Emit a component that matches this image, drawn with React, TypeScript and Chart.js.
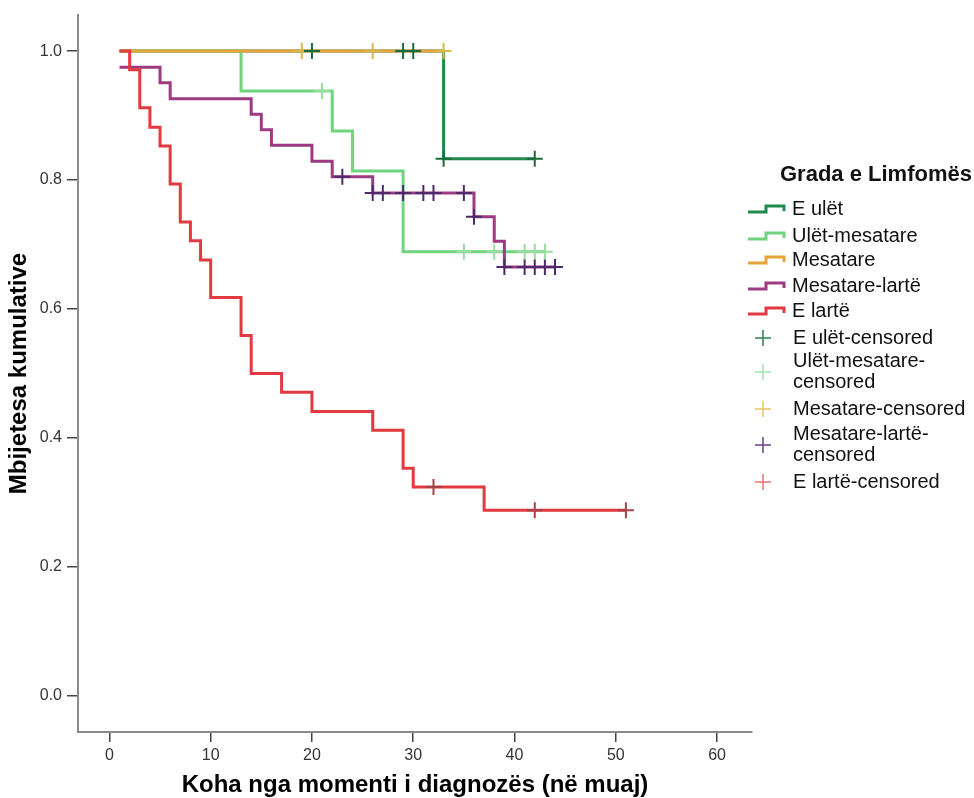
import React, { useEffect, useRef } from "react";
import { Chart, registerables } from "chart.js";

Chart.register(...registerables);

// ---- Axis ticks ----
const xTickValues = [0, 10, 20, 30, 40, 50, 60];
const yTickValues = [0, 0.2, 0.4, 0.6, 0.8, 1.0];
const yTickLabels = ["0.0", "0.2", "0.4", "0.6", "0.8", "1.0"];

const xTitle = "Koha nga momenti i diagnozës (në muaj)";
const yTitle = "Mbijetesa kumulative";
const legendTitle = "Grada e Limfomës";

const groupNames = ["E ulët", "Ulët-mesatare", "Mesatare", "Mesatare-lartë", "E lartë"];
const censoredNames: (string | string[])[] = [
  "E ulët-censored",
  ["Ulët-mesatare-", "censored"],
  "Mesatare-censored",
  ["Mesatare-lartë-", "censored"],
  "E lartë-censored",
];

// ---- E ulët ----
const eUletTimes = [1, 33, 42];
const eUletSurv = [1, 0.833, 0.833];
const eUletCensTimes = [20, 29, 30, 33, 42];
const eUletCensSurv = [1, 1, 1, 0.833, 0.833];

// ---- Ulët-mesatare ----
const ulMesTimes = [1, 13, 22, 24, 29, 43];
const ulMesSurv = [1, 0.938, 0.876, 0.814, 0.689, 0.689];
const ulMesCensTimes = [21, 35, 38, 41, 42, 43];
const ulMesCensSurv = [0.938, 0.689, 0.689, 0.689, 0.689, 0.689];

// ---- Mesatare ----
const mesTimes = [1, 33];
const mesSurv = [1, 1];
const mesCensTimes = [19, 26, 33];
const mesCensSurv = [1, 1, 1];

// ---- Mesatare-lartë ----
const mesLarTimes = [1, 5, 6, 14, 15, 16, 20, 22, 26, 36, 38, 39, 44];
const mesLarSurv = [0.975, 0.951, 0.926, 0.902, 0.878, 0.854, 0.829, 0.805, 0.78, 0.743, 0.705, 0.665, 0.665];
const mesLarCensTimes = [23, 26, 27, 29, 31, 32, 35, 36, 39, 41, 42, 43, 44];
const mesLarCensSurv = [0.805, 0.78, 0.78, 0.78, 0.78, 0.78, 0.78, 0.743, 0.665, 0.665, 0.665, 0.665, 0.665];

// ---- E lartë ----
const larTimes = [1, 2, 3, 4, 5, 6, 7, 8, 9, 10, 13, 14, 17, 20, 26, 29, 30, 37, 51];
const larSurv = [1, 0.971, 0.912, 0.882, 0.853, 0.794, 0.735, 0.706, 0.676, 0.618, 0.559, 0.5, 0.471, 0.441, 0.412, 0.353, 0.324, 0.288, 0.288];
const larCensTimes = [32, 42, 51];
const larCensSurv = [0.324, 0.288, 0.288];

// ---- Styles ----
const lineColors = ["#1f8a4c", "#6fd47d", "#e9a33a", "#9c3a82", "#e23a40"];
const censColors = ["#1d6b3d", "#98dca2", "#e0b64c", "#4e2a6c", "#a8404c"];
const legendCensColors = ["#2f7d50", "#a6e2ae", "#e9c463", "#6b3f8c", "#e87474"];
const FONT = "'Liberation Sans', Arial, Helvetica, sans-serif";

const toPts = (t: number[], s: number[]) => t.map((x, i) => ({ x, y: s[i] }));

const overlayPlugin = {
  id: "kmOverlay",
  afterDraw(chart: any) {
    const ctx = chart.ctx as CanvasRenderingContext2D;
    const ca = chart.chartArea;
    ctx.save();
    // axis titles
    ctx.fillStyle = "#000";
    ctx.font = `bold 24px ${FONT}`;
    ctx.textAlign = "center";
    ctx.textBaseline = "middle";
    ctx.fillText(xTitle, (ca.left + ca.right) / 2, 785);
    ctx.save();
    ctx.translate(19, (ca.top + ca.bottom) / 2);
    ctx.rotate(-Math.PI / 2);
    ctx.fillText(yTitle, 0, 0);
    ctx.restore();

    // legend
    const lx = ca.right - 4; // 748
    ctx.textAlign = "left";
    ctx.font = `bold 22px ${FONT}`;
    ctx.fillStyle = "#111";
    ctx.fillText(legendTitle, lx + 32, 175);

    ctx.font = `20px ${FONT}`;
    const stepRows = [209, 236, 260, 286, 311];
    groupNames.forEach((name, i) => {
      const cy = stepRows[i];
      ctx.strokeStyle = lineColors[i];
      ctx.lineWidth = 3;
      ctx.lineJoin = "miter";
      ctx.beginPath();
      ctx.moveTo(lx, cy + 3);
      ctx.lineTo(lx + 18, cy + 3);
      ctx.lineTo(lx + 18, cy - 3);
      ctx.lineTo(lx + 36, cy - 3);
      ctx.lineTo(lx + 36, cy + 2);
      ctx.stroke();
      ctx.fillStyle = "#111";
      ctx.fillText(name, lx + 44, cy);
    });

    const censRows = [338, 372, 409, 445, 482];
    censoredNames.forEach((name, i) => {
      const cy = censRows[i];
      const cx = lx + 15;
      ctx.strokeStyle = legendCensColors[i];
      ctx.lineWidth = 1.5;
      ctx.beginPath();
      ctx.moveTo(cx - 8, cy);
      ctx.lineTo(cx + 8, cy);
      ctx.moveTo(cx, cy - 8);
      ctx.lineTo(cx, cy + 8);
      ctx.stroke();
      ctx.fillStyle = "#111";
      if (Array.isArray(name)) {
        ctx.fillText(name[0], lx + 45, cy - 10.5);
        ctx.fillText(name[1], lx + 45, cy + 10.5);
      } else {
        ctx.fillText(name, lx + 45, cy);
      }
    });
    ctx.restore();
  },
};

export default function App() {
  const canvasRef = useRef<HTMLCanvasElement | null>(null);

  useEffect(() => {
    if (!canvasRef.current) return;
    const lineSeries = [
      toPts(eUletTimes, eUletSurv),
      toPts(ulMesTimes, ulMesSurv),
      toPts(mesTimes, mesSurv),
      toPts(mesLarTimes, mesLarSurv),
      toPts(larTimes, larSurv),
    ];
    const censSeries = [
      toPts(eUletCensTimes, eUletCensSurv),
      toPts(ulMesCensTimes, ulMesCensSurv),
      toPts(mesCensTimes, mesCensSurv),
      toPts(mesLarCensTimes, mesLarCensSurv),
      toPts(larCensTimes, larCensSurv),
    ];
    // drawing order: lower "order" drawn on top
    const lineOrder = [9, 8, 7, 6, 5];
    const datasets: any[] = [];
    lineSeries.forEach((d, i) => {
      datasets.push({
        label: groupNames[i],
        data: d,
        borderColor: lineColors[i],
        backgroundColor: lineColors[i],
        borderWidth: 3,
        stepped: "before",
        pointRadius: 0,
        fill: false,
        borderCapStyle: "butt",
        borderJoinStyle: "miter",
        order: lineOrder[i],
      });
    });
    censSeries.forEach((d, i) => {
      datasets.push({
        label: groupNames[i] + "-censored",
        data: d,
        showLine: false,
        pointStyle: "cross",
        pointRadius: 8,
        pointBorderWidth: 2,
        pointBorderColor: censColors[i],
        pointBackgroundColor: censColors[i],
        borderColor: censColors[i],
        order: i,
      });
    });

    const chart = new Chart(canvasRef.current, {
      type: "line",
      data: { datasets },
      options: {
        animation: false,
        responsive: false,
        maintainAspectRatio: false,
        layout: { padding: { top: 15, right: 222, bottom: 0, left: 0 } },
        plugins: { legend: { display: false }, tooltip: { enabled: false } },
        scales: {
          x: {
            type: "linear",
            min: -3.1,
            max: 63.45,
            afterBuildTicks: (s: any) => {
              s.ticks = xTickValues.map((v) => ({ value: v }));
            },
            afterFit: (s: any) => {
              s.height = 66;
            },
            grid: { display: true, drawOnChartArea: false, drawTicks: true, tickLength: 10, color: "#444", lineWidth: 1.5 },
            border: { display: true, color: "#8a8a8a", width: 2 },
            ticks: {
              color: "#333",
              font: { family: FONT, size: 16 },
              padding: 4,
              maxRotation: 0,
              autoSkip: false,
              callback: (v: any) => String(v),
            },
          },
          y: {
            type: "linear",
            min: -0.056,
            max: 1.056,
            afterBuildTicks: (s: any) => {
              s.ticks = yTickValues.map((v) => ({ value: v }));
            },
            afterFit: (s: any) => {
              s.width = 78;
            },
            grid: { display: true, drawOnChartArea: false, drawTicks: true, tickLength: 11, color: "#444", lineWidth: 1.5 },
            border: { display: true, color: "#8a8a8a", width: 2 },
            ticks: {
              color: "#333",
              font: { family: FONT, size: 16 },
              padding: 5,
              autoSkip: false,
              callback: (v: any) => {
                const idx = yTickValues.indexOf(v);
                return idx >= 0 ? yTickLabels[idx] : "";
              },
            },
          },
        },
      },
      plugins: [overlayPlugin],
    });
    return () => chart.destroy();
  }, []);

  return (
    <div style={{ position: "absolute", left: 0, top: 0, width: 974, height: 798, background: "#fff" }}>
      <canvas ref={canvasRef} width={974} height={798} style={{ display: "block" }} />
    </div>
  );
}
